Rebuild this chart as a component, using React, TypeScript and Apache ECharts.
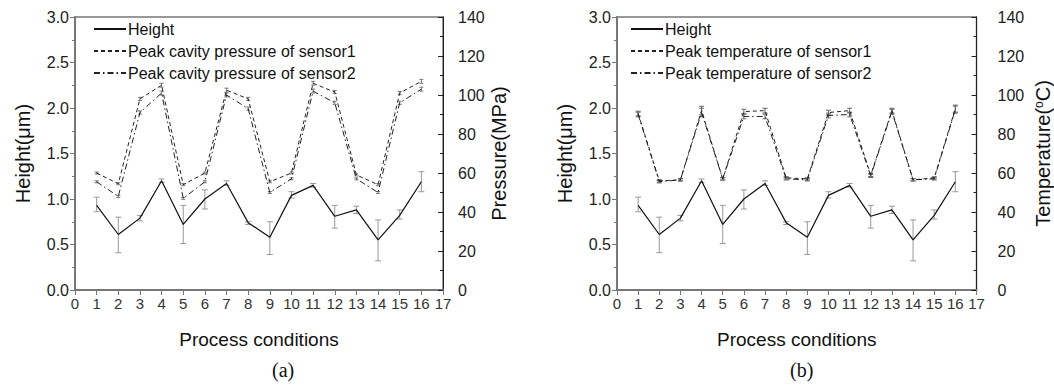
import React, { useEffect, useRef } from "react";
import * as echarts from "echarts";

const conditions = [1, 2, 3, 4, 5, 6, 7, 8, 9, 10, 11, 12, 13, 14, 15, 16];
const height = [0.93, 0.61, 0.79, 1.2, 0.72, 1.0, 1.17, 0.74, 0.58, 1.04, 1.15, 0.81, 0.88, 0.55, 0.82, 1.19];
const heightHi = [1.02, 0.8, 0.82, 1.22, 0.93, 1.1, 1.2, 0.75, 0.75, 1.08, 1.17, 0.93, 0.92, 0.77, 0.88, 1.3];
const heightLo = [0.86, 0.41, 0.76, 1.18, 0.51, 0.89, 1.15, 0.72, 0.39, 1.01, 1.13, 0.68, 0.84, 0.32, 0.78, 1.08];
const pressure1 = [60, 54.5, 98, 105, 54, 60, 102.5, 98, 55.5, 60, 106, 101.5, 59, 54, 101, 107];
const pressure2 = [55.5, 48, 91, 101, 47, 55.5, 100, 93, 50, 57, 102, 96, 57, 50, 96, 103];
const temp1 = [90.5, 56, 56.5, 92, 57, 91.5, 92, 57.5, 57, 91, 92, 59, 92, 56.5, 57.5, 93];
const temp2 = [90, 55.5, 56.5, 91, 57, 89, 89, 57, 56.5, 89.5, 90, 58.5, 91.5, 56.5, 57, 92.5];
const pressureErr = [0.5, 0.5, 0.8, 1, 0.5, 0.5, 1, 0.8, 0.5, 0.5, 1, 0.8, 0.5, 0.5, 0.8, 1];
const tempErr = [1.2, 0.6, 0.6, 2.2, 0.6, 1.2, 1.2, 0.6, 0.6, 1.2, 1.2, 0.8, 1.2, 0.6, 0.6, 1.8];
const xTicks = [0, 17, 1];
const leftTicks = [0, 3, 0.5];
const rightTicks = [0, 140, 20];

const FONT = "Liberation Sans, Arial, sans-serif";

function errorBars(name: string, xi: number, yi: number, lo: number[], hi: number[], color: string, cap: number) {
  return {
    type: "custom",
    name,
    xAxisIndex: xi,
    yAxisIndex: yi,
    silent: true,
    z: 1,
    data: conditions.map((c, i) => [c, lo[i], hi[i]]),
    renderItem: (params: any, api: any) => {
      const x = api.value(0);
      const p1 = api.coord([x, api.value(2)]);
      const p2 = api.coord([x, api.value(1)]);
      const st = { stroke: color, lineWidth: 1 };
      return {
        type: "group",
        children: [
          { type: "line", shape: { x1: p1[0], y1: p1[1], x2: p2[0], y2: p2[1] }, style: st },
          { type: "line", shape: { x1: p1[0] - cap, y1: p1[1], x2: p1[0] + cap, y2: p1[1] }, style: st },
          { type: "line", shape: { x1: p2[0] - cap, y1: p2[1], x2: p2[0] + cap, y2: p2[1] }, style: st },
        ],
      };
    },
  };
}

function xAxisDef(gridIndex: number) {
  return {
    type: "value",
    gridIndex,
    min: xTicks[0],
    max: xTicks[1],
    interval: xTicks[2],
    name: "Process conditions",
    nameLocation: "middle",
    nameGap: 40,
    nameTextStyle: { fontFamily: FONT, fontSize: 19, color: "#111" },
    axisLine: { onZero: false, lineStyle: { color: "#777", width: 2 } },
    axisTick: { inside: false, length: 5, lineStyle: { color: "#777", width: 1 } },
    axisLabel: { fontFamily: FONT, fontSize: 15, color: "#333", margin: 6 },
    splitLine: { show: false },
  };
}

function leftAxisDef(gridIndex: number, margin: number, gap: number) {
  return {
    type: "value",
    gridIndex,
    position: "left",
    min: leftTicks[0],
    max: leftTicks[1],
    interval: leftTicks[2],
    name: "Height(\u03bcm)",
    nameLocation: "middle",
    nameRotate: 90,
    nameGap: gap,
    nameTextStyle: { fontFamily: FONT, fontSize: 20, color: "#111" },
    axisLine: { show: true, lineStyle: { color: "#777", width: 2 } },
    axisTick: { show: true, inside: false, length: 5, lineStyle: { color: "#777" } },
    minorTick: { show: true, splitNumber: 2, length: 3, lineStyle: { color: "#777" } },
    axisLabel: { fontFamily: FONT, fontSize: 16, color: "#222", margin, formatter: (v: number) => v.toFixed(1) },
    splitLine: { show: false },
  };
}

function rightAxisDef(gridIndex: number, name: string, margin: number, gap: number) {
  return {
    type: "value",
    gridIndex,
    position: "right",
    min: rightTicks[0],
    max: rightTicks[1],
    interval: rightTicks[2],
    name,
    nameLocation: "middle",
    nameRotate: 90,
    nameGap: gap,
    nameTextStyle: {
      fontFamily: FONT,
      fontSize: 20,
      color: "#111",
      rich: { s: { fontFamily: FONT, fontSize: 12, color: "#111", verticalAlign: "top", padding: [0, 0, 9, 0] } },
    },
    axisLine: { show: true, lineStyle: { color: "#222", width: 1 } },
    axisTick: { show: true, inside: true, length: 5, lineStyle: { color: "#222" } },
    minorTick: { show: true, splitNumber: 2, length: 3, lineStyle: { color: "#222" } },
    axisLabel: { fontFamily: FONT, fontSize: 16, color: "#222", margin },
    splitLine: { show: false },
  };
}

function lineSeries(name: string, xi: number, yi: number, data: number[], color: string, type: any, width = 1) {
  return {
    type: "line",
    name,
    xAxisIndex: xi,
    yAxisIndex: yi,
    symbol: "none",
    z: 3,
    data: conditions.map((c, i) => [c, data[i]]),
    lineStyle: { color, width, type },
    itemStyle: { color },
  };
}

const DASH = [4, 3];
const DASHDOT = [6, 3, 1.5, 3];

export default function App() {
  const ref = useRef<HTMLDivElement>(null);
  useEffect(() => {
    const chart = echarts.init(ref.current!, null, { renderer: "svg" });
    const legendBase = {
      orient: "vertical",
      top: 21,
      padding: 0,
      itemWidth: 32,
      itemHeight: 14,
      itemGap: 6,
      selectedMode: false,
      itemStyle: { opacity: 0 },
      textStyle: { fontFamily: FONT, fontSize: 16, color: "#111", padding: [0, 0, 0, -3] },
    };
    chart.setOption({
      animation: false,
      backgroundColor: "#fff",
      grid: [
        { left: 75, top: 17, width: 368, height: 273, show: true, borderColor: "#777", borderWidth: 1.5, containLabel: false },
        { left: 617, top: 17, width: 360, height: 273, show: true, borderColor: "#777", borderWidth: 1.5, containLabel: false },
      ],
      xAxis: [xAxisDef(0), xAxisDef(1)],
      yAxis: [
        leftAxisDef(0, 6, 42),
        rightAxisDef(0, "Pressure(MPa)", 15, 44),
        leftAxisDef(1, 6, 42),
        rightAxisDef(1, "Temperature({s|o}C)", 21, 56),
      ],
      legend: [
        {
          ...legendBase,
          left: 93,
          data: ["Height", "Peak cavity pressure of sensor1", "Peak cavity pressure of sensor2"],
        },
        {
          ...legendBase,
          left: 630,
          data: ["Height ", "Peak temperature of sensor1", "Peak temperature of sensor2"],
        },
      ],
      series: [
        errorBars("errH_a", 0, 0, heightLo, heightHi, "#999", 3),
        errorBars("errP1", 0, 1, pressure1.map((v, i) => v - pressureErr[i]), pressure1.map((v, i) => v + pressureErr[i]), "#777", 2),
        errorBars("errP2", 0, 1, pressure2.map((v, i) => v - pressureErr[i]), pressure2.map((v, i) => v + pressureErr[i]), "#777", 2),
        lineSeries("Height", 0, 0, height, "#111", "solid", 1.2),
        lineSeries("Peak cavity pressure of sensor1", 0, 1, pressure1, "#222", DASH),
        lineSeries("Peak cavity pressure of sensor2", 0, 1, pressure2, "#222", DASHDOT),
        errorBars("errH_b", 1, 2, heightLo, heightHi, "#999", 3),
        errorBars("errT1", 1, 3, temp1.map((v, i) => v - tempErr[i]), temp1.map((v, i) => v + tempErr[i]), "#666", 2.5),
        errorBars("errT2", 1, 3, temp2.map((v, i) => v - tempErr[i]), temp2.map((v, i) => v + tempErr[i]), "#666", 2.5),
        lineSeries("Height ", 1, 2, height, "#111", "solid", 1.2),
        lineSeries("Peak temperature of sensor1", 1, 3, temp1, "#222", DASH),
        lineSeries("Peak temperature of sensor2", 1, 3, temp2, "#222", DASHDOT),
      ],
      graphic: [
        { type: "text", left: 272, top: 360, style: { text: "(a)", font: "20px 'Liberation Serif', 'Times New Roman', serif", fill: "#111" } },
        { type: "text", left: 790, top: 360, style: { text: "(b)", font: "20px 'Liberation Serif', 'Times New Roman', serif", fill: "#111" } },
      ],
    });
    return () => chart.dispose();
  }, []);
  return (
    <div
      ref={ref}
      style={{ position: "absolute", left: 0, top: 0, width: 1054, height: 387, background: "#fff" }}
    />
  );
}
